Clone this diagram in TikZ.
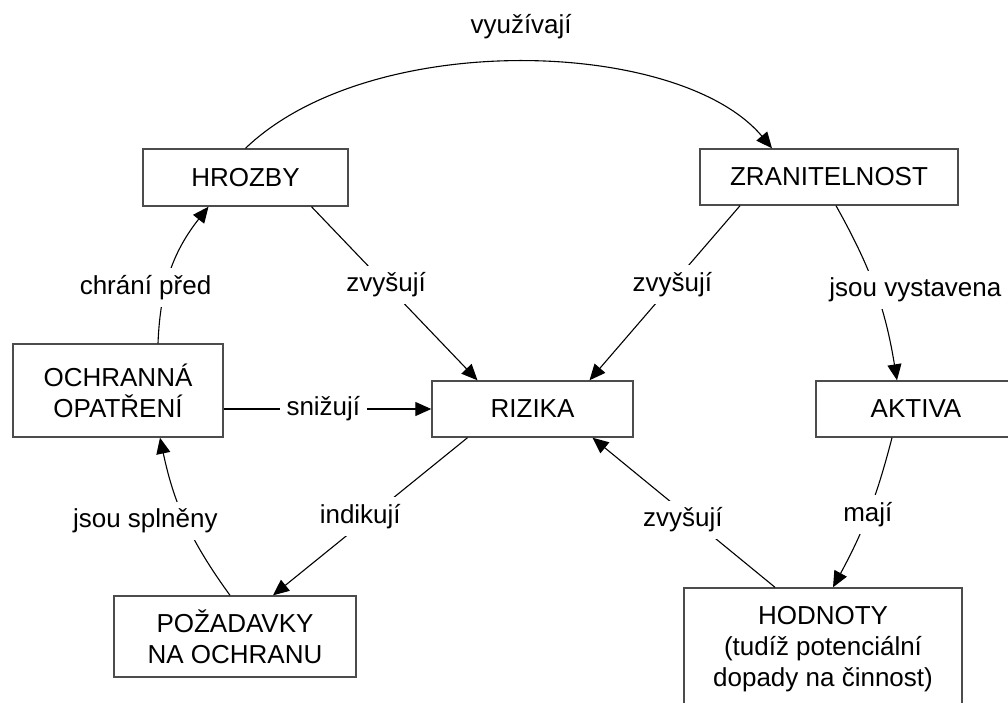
\documentclass[tikz,border=0pt]{standalone}
\usepackage{fontspec}
\setmainfont{Liberation Sans}
\usetikzlibrary{arrows.meta}
\begin{document}
\begin{tikzpicture}[x=1pt, y=1pt, font=\fontsize{26}{31}\selectfont, >={Triangle[length=16pt,width=14pt]},
  box/.style={draw=black!70, line width=1.4pt, align=center, inner sep=0pt},
  lbl/.style={fill=white, inner sep=7pt},
  link/.style={->, line width=1.1pt}]
\useasboundingbox (0,-702) rectangle (1008,0);
\clip (0,-702) rectangle (1008,0);
\node[box, minimum width=205pt, minimum height=57pt] (hrozby) at (245.5,-177.5) {HROZBY};
\node[box, minimum width=258pt, minimum height=56pt] (zran) at (829,-177) {ZRANITELNOST};
\node[box, minimum width=210pt, minimum height=93pt] (och) at (118,-390.5) {OCHRANNÁ\\OPATŘENÍ};
\node[box, minimum width=201pt, minimum height=56pt] (riz) at (532.5,-409) {RIZIKA};
\node[box, minimum width=200pt, minimum height=56pt] (akt) at (916,-409) {AKTIVA};
\node[box, minimum width=242pt, minimum height=81pt] (pozad) at (235,-636.5) {POŽADAVKY\\NA OCHRANU};
\node[box, minimum width=278pt, minimum height=122pt] (hodn) at (823,-649) {HODNOTY\\(tudíž potenciální\\dopady na činnost)};
% vazby
\draw[link] (hrozby.north) .. controls +(125,120) and +(-92,110) .. ([xshift=-57pt]zran.north)
  node[midway, yshift=35pt]{využívají};
\draw[link] ([xshift=66pt]hrozby.south) -- node[lbl, pos=.45]{zvyšují} ([xshift=-55pt]riz.north);
\draw[link] ([xshift=-89pt]zran.south) -- node[lbl, pos=.45]{zvyšují} ([xshift=57pt]riz.north);
\draw[link] ([xshift=7pt]zran.south) to[bend left=10] node[lbl, xshift=40pt]{jsou vystavena} ([xshift=-19pt]akt.north);
\draw[link] ([xshift=-24pt]akt.south) to[bend left=7] node[lbl]{mají} ([xshift=10pt]hodn.north);
\draw[link] ([xshift=-48pt]hodn.north) -- node[lbl, pos=.45, xshift=-10pt]{zvyšují} ([xshift=60pt]riz.south);
\draw[link] ([xshift=-65pt]riz.south) -- node[lbl, xshift=-10pt]{indikují} ([xshift=38pt]pozad.north);
\draw[link] ([xshift=-5pt]pozad.north) to[bend left=12] node[lbl, xshift=-40pt]{jsou splněny} ([xshift=42pt]och.south);
\draw[link] ([xshift=40pt]och.north) to[bend left=18] node[lbl, pos=.37, xshift=-20pt]{chrání před} ([xshift=-37pt]hrozby.south);
\draw[link] (och.east |- riz.west) -- node[lbl, pos=.48]{snižují} (riz.west);
\end{tikzpicture}
\end{document}
